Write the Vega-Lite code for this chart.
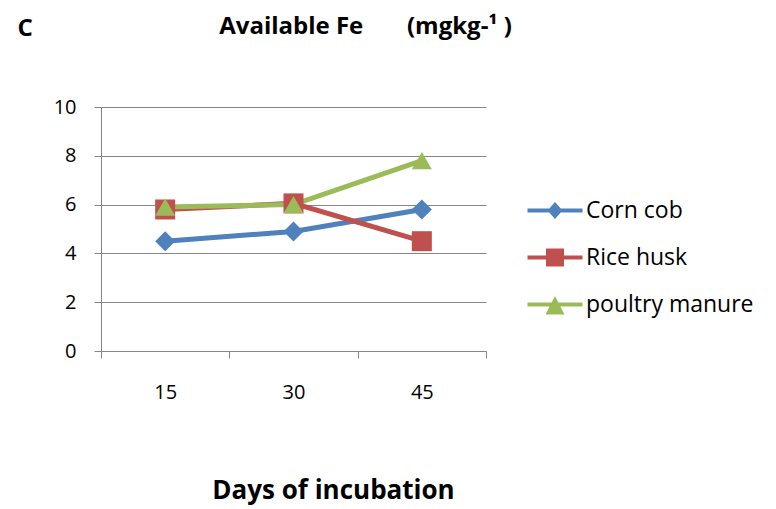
{
  "$schema": "https://vega.github.io/schema/vega-lite/v6.json",
  "width": 385,
  "height": 244,
  "autosize": {"type": "none"},
  "padding": {"left": 101, "top": 107, "right": 290, "bottom": 158},
  "background": "white",
  "config": {
    "font": "Open Sans",
    "view": {"stroke": null}
  },
  "title": {
    "text": "Available Fe\u00a0\u00a0\u00a0\u00a0\u00a0\u00a0\u00a0(mgkg-¹\u00a0)",
    "anchor": "middle",
    "frame": "group",
    "dx": 72,
    "dy": 27,
    "fontSize": 24,
    "fontWeight": "bold",
    "color": "black",
    "font": "Open Sans"
  },
  "data": {
    "values": [
      {"day": 15, "series": "Corn cob", "fe": 4.5},
      {"day": 30, "series": "Corn cob", "fe": 4.9},
      {"day": 45, "series": "Corn cob", "fe": 5.8},
      {"day": 15, "series": "Rice husk", "fe": 5.8},
      {"day": 30, "series": "Rice husk", "fe": 6.05},
      {"day": 45, "series": "Rice husk", "fe": 4.5},
      {"day": 15, "series": "poultry manure", "fe": 5.9},
      {"day": 30, "series": "poultry manure", "fe": 6.0},
      {"day": 45, "series": "poultry manure", "fe": 7.8}
    ]
  },
  "encoding": {
    "x": {
      "field": "day",
      "type": "ordinal",
      "sort": [15, 30, 45],
      "scale": {"paddingInner": 0, "paddingOuter": 0},
      "axis": {
        "title": "Days of incubation",
        "titleFontSize": 26,
        "titleFontWeight": "bold",
        "titleColor": "black",
        "titleX": 232,
        "titleY": 139,
        "titleAlign": "center",
        "titleBaseline": "middle",
        "labelAngle": 0,
        "labelFontSize": 20,
        "labelFontWeight": "normal",
        "labelColor": "black",
        "labelPadding": 24,
        "tickBand": "extent",
        "tickSize": 7,
        "tickColor": "#868686",
        "domainColor": "#868686",
        "grid": false
      }
    },
    "y": {
      "field": "fe",
      "type": "quantitative",
      "scale": {"domain": [0, 10], "nice": false, "zero": true},
      "axis": {
        "title": "C",
        "titleAngle": 0,
        "titleX": -84,
        "titleY": -79,
        "titleAlign": "left",
        "titleBaseline": "middle",
        "titleFontSize": 24,
        "titleFontWeight": "bold",
        "titleColor": "black",
        "values": [0, 2, 4, 6, 8, 10],
        "labelFontSize": 20,
        "labelColor": "black",
        "labelPadding": 18,
        "tickSize": 7,
        "tickColor": "#868686",
        "domainColor": "#868686",
        "grid": true,
        "gridColor": "#868686",
        "gridOpacity": 1
      }
    },
    "color": {
      "field": "series",
      "type": "nominal",
      "scale": {
        "domain": ["Corn cob", "Rice husk", "poultry manure"],
        "range": ["#4F81BD", "#C0504D", "#9BBB59"]
      },
      "legend": null
    }
  },
  "layer": [
    {"mark": {"type": "line", "strokeWidth": 5}},
    {
      "mark": {"type": "point", "filled": true, "size": 400, "opacity": 1},
      "encoding": {
        "shape": {
          "field": "series",
          "type": "nominal",
          "scale": {
            "domain": ["Corn cob", "Rice husk", "poultry manure"],
            "range": ["diamond", "square", "triangle-up"]
          },
          "legend": null
        }
      }
    },
    {
      "transform": [{"filter": "false"}],
      "mark": {"type": "point", "filled": true, "size": 400, "opacity": 1},
      "encoding": {
        "color": {
          "field": "series",
          "type": "nominal",
          "scale": {
            "domain": ["Corn cob", "Rice husk", "poultry manure"],
            "range": ["#4F81BD", "#C0504D", "#9BBB59"]
          },
          "legend": {
            "title": null,
            "orient": "none",
            "legendX": 425,
            "legendY": 92,
            "padding": 0,
            "symbolSize": 400,
            "symbolOpacity": 1,
            "symbolStrokeWidth": 0,
            "labelFontSize": 23,
            "labelColor": "black",
            "labelLimit": 400,
            "labelOffset": 37,
            "rowPadding": 23,
            "labelBaseline": "middle"
          }
        },
        "shape": {
          "field": "series",
          "type": "nominal",
          "scale": {
            "domain": ["Corn cob", "Rice husk", "poultry manure"],
            "range": [
              "M-1,-0.2H4.5V0.2H-1Z M1.75,-0.85L2.5,0L1.75,0.85L1,0Z",
              "M-1,-0.2H4.5V0.2H-1Z M0.85,-0.9H2.65V0.9H0.85Z",
              "M-1,-0.2H4.5V0.2H-1Z M1.75,-0.85L2.7,1L0.8,1Z"
            ]
          },
          "legend": {
            "title": null,
            "orient": "none",
            "legendX": 425,
            "legendY": 92,
            "padding": 0,
            "symbolSize": 400,
            "symbolOpacity": 1,
            "symbolStrokeWidth": 0,
            "labelFontSize": 23,
            "labelColor": "black",
            "labelLimit": 400,
            "labelOffset": 37,
            "rowPadding": 23,
            "labelBaseline": "middle"
          }
        }
      }
    }
  ],
  "resolve": {
    "scale": {"shape": "independent"},
    "legend": {"shape": "independent", "color": "independent"}
  }
}
